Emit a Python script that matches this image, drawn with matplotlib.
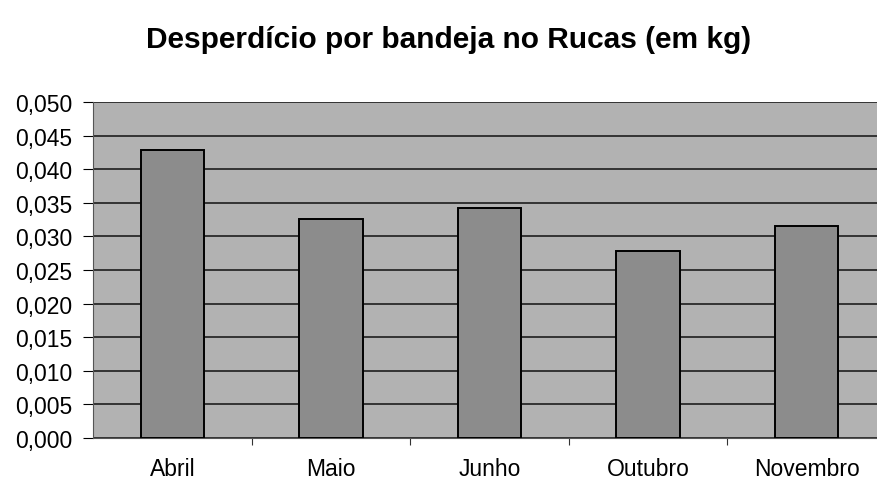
import matplotlib.pyplot as plt

months = ["Abril", "Maio", "Junho", "Outubro", "Novembro"]
waste_kg = [0.0429, 0.0326, 0.0342, 0.0278, 0.0315]
y_ticks = [0.000, 0.005, 0.010, 0.015, 0.020, 0.025, 0.030, 0.035, 0.040, 0.045, 0.050]

plt.rcParams["font.family"] = ["Liberation Sans", "DejaVu Sans"]

fig = plt.figure(figsize=(8.77, 4.85), dpi=100)
fig.patch.set_facecolor("white")
# plot area runs off the right edge like in the original
ax = fig.add_axes([93 / 877, 1 - 439 / 485, 793 / 877, 336 / 485])
ax.set_facecolor("#b2b2b2")

x = range(len(months))
ax.bar(x, waste_kg, width=0.4, color="#8c8c8c", edgecolor="black", linewidth=1.4, zorder=3)

ax.set_ylim(0, 0.05)
ax.set_xlim(-0.5, len(months) - 0.5)
ax.set_yticks(y_ticks)
ax.set_yticklabels([f"{v:.3f}".replace(".", ",") for v in y_ticks])
ax.yaxis.grid(True, color="#111111", linewidth=1.1, zorder=1)

# category ticks sit between the bars
ax.set_xticks([i + 0.5 for i in range(len(months) - 1)], minor=False)
ax.set_xticklabels([])
ax.set_xticks(list(x), minor=True)
ax.set_xticklabels(months, minor=True)
ax.tick_params(axis="x", which="minor", length=0, pad=14, labelsize=16.5)
ax.tick_params(axis="x", which="major", length=5, width=0.8, color="#333333")
ax.tick_params(axis="y", length=7, width=0.8, labelsize=16.5, pad=8)

for side in ["top", "right"]:
    ax.spines[side].set_visible(False)
ax.spines["left"].set_color("#555555")
ax.spines["bottom"].set_color("#555555")

fig.text(0.512, 0.917, "Desperdício por bandeja no Rucas (em kg)",
         ha="center", va="center", fontsize=21.5, fontweight="bold")

fig.savefig("out.png", dpi=100)
plt.close()
